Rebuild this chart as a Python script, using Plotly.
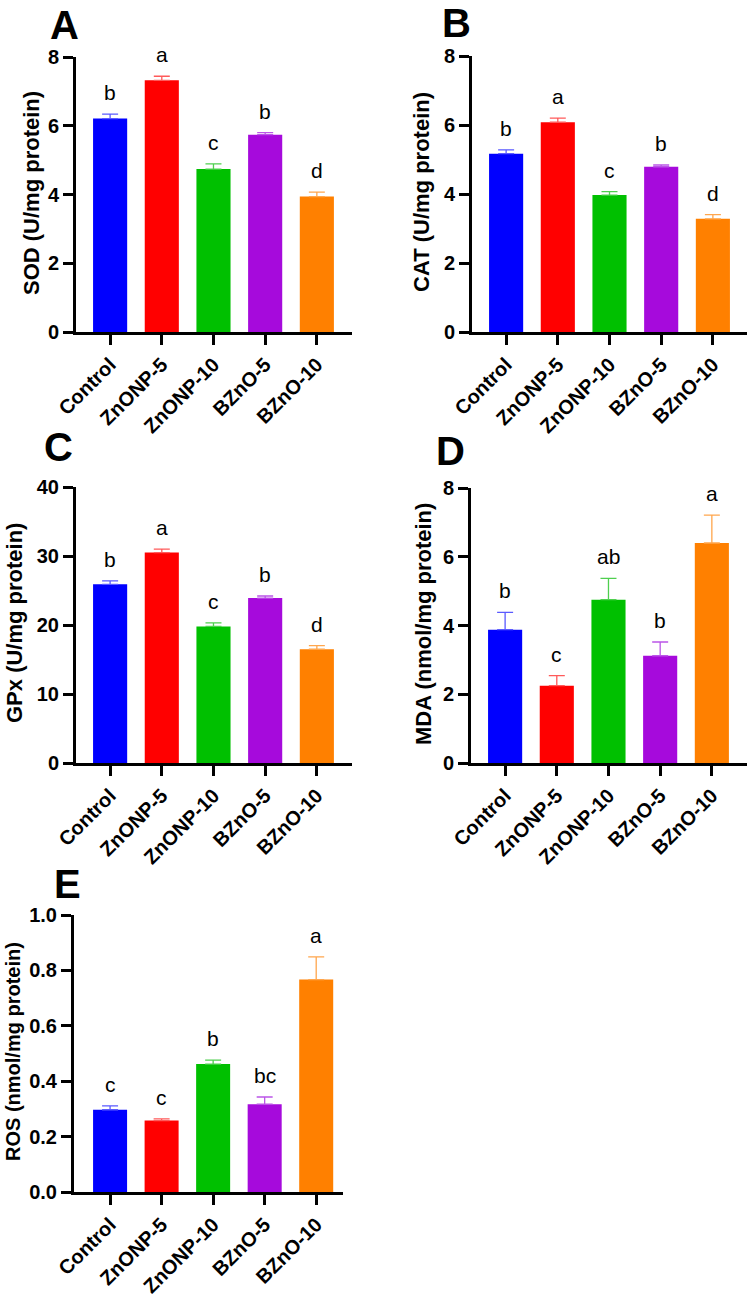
import plotly.graph_objects as go

categories = ["Control", "ZnONP-5", "ZnONP-10", "BZnO-5", "BZnO-10"]

sod_mean = [6.21, 7.32, 4.74, 5.74, 3.94]
sod_err = [0.13, 0.12, 0.15, 0.06, 0.13]
sod_letters = ["b", "a", "c", "b", "d"]

cat_mean = [5.17, 6.08, 3.97, 4.79, 3.28]
cat_err = [0.11, 0.12, 0.10, 0.05, 0.12]
cat_letters = ["b", "a", "c", "b", "d"]

gpx_mean = [25.9, 30.5, 19.8, 23.9, 16.5]
gpx_err = [0.5, 0.5, 0.5, 0.3, 0.5]
gpx_letters = ["b", "a", "c", "b", "d"]

mda_mean = [3.88, 2.25, 4.75, 3.12, 6.40]
mda_err = [0.50, 0.29, 0.62, 0.40, 0.81]
mda_letters = ["b", "c", "ab", "b", "a"]

ros_mean = [0.297, 0.258, 0.462, 0.317, 0.767]
ros_err = [0.014, 0.006, 0.014, 0.026, 0.082]
ros_letters = ["c", "c", "b", "bc", "a"]

bar_colors = ["#0000FF", "#FF0000", "#00C000", "#A60ADC", "#FF8000"]
err_colors = ["#5a5aff", "#ff5a5a", "#4fcf4f", "#bb55e8", "#ffa64d"]

W, H = 749, 1297
FONT = "Liberation Sans, Arial, sans-serif"

def px_x(p):
    return p / W

def px_y(p):
    return 1 - p / H

panels = [
    dict(name="A", mean=sod_mean, err=sod_err, letters=sod_letters,
         title="SOD (U/mg protein)", yrange=[0, 8], dtick=2, tickfmt="",
         xdom=[76, 352], ydom=[332, 57], xr=[-0.66, 4.68],
         lab=(64, 2), ttl=(32, 193), tsize=22),
    dict(name="B", mean=cat_mean, err=cat_err, letters=cat_letters,
         title="CAT (U/mg protein)", yrange=[0, 8], dtick=2, tickfmt="",
         xdom=[472, 747], ydom=[332, 56], xr=[-0.66, 4.66],
         lab=(456, 0), ttl=(422, 192), tsize=22),
    dict(name="C", mean=gpx_mean, err=gpx_err, letters=gpx_letters,
         title="GPx (U/mg protein)", yrange=[0, 40], dtick=10, tickfmt="",
         xdom=[76, 352], ydom=[763, 487], xr=[-0.66, 4.68],
         lab=(58, 424), ttl=(15, 623), tsize=22),
    dict(name="D", mean=mda_mean, err=mda_err, letters=mda_letters,
         title="MDA (nmol/mg protein)", yrange=[0, 8], dtick=2, tickfmt="",
         xdom=[471, 747], ydom=[763, 488], xr=[-0.66, 4.68],
         lab=(450, 428), ttl=(423, 624), tsize=22),
    dict(name="E", mean=ros_mean, err=ros_err, letters=ros_letters,
         title="ROS (nmol/mg protein)", yrange=[0, 1.0], dtick=0.2, tickfmt=".1f",
         xdom=[74, 343], ydom=[1192, 915], xr=[-0.70, 4.52],
         lab=(67, 861), ttl=(13, 1052), tsize=20),
]

fig = go.Figure()
annotations = []
layout_axes = {}

for i, p in enumerate(panels):
    n = i + 1
    xa = "x" if n == 1 else f"x{n}"
    ya = "y" if n == 1 else f"y{n}"
    for j, c in enumerate(categories):
        fig.add_trace(go.Bar(
            x=[c], y=[p["mean"][j]],
            marker=dict(color=bar_colors[j], line=dict(width=0)),
            width=0.66,
            error_y=dict(type="data", array=[p["err"][j]], arrayminus=[0],
                         symmetric=False, color=err_colors[j],
                         thickness=1.3, width=8),
            xaxis=xa, yaxis=ya, showlegend=False,
        ))
        annotations.append(dict(
            x=c, y=p["mean"][j] + p["err"][j], xref=xa, yref=ya,
            text=p["letters"][j], showarrow=False, yanchor="bottom",
            yshift=8, font=dict(family=FONT, size=21, color="black"),
        ))
    xkey = "xaxis" if n == 1 else f"xaxis{n}"
    ykey = "yaxis" if n == 1 else f"yaxis{n}"
    layout_axes[xkey] = dict(
        domain=[px_x(p["xdom"][0]), px_x(p["xdom"][1])],
        anchor=ya, type="category", categoryorder="array",
        categoryarray=categories, range=p["xr"], automargin=False,
        showline=True, linewidth=3, linecolor="black",
        ticks="outside", ticklen=10, tickwidth=3, tickcolor="black",
        tickangle=-45, showgrid=False, zeroline=False,
        tickfont=dict(family=FONT, size=20, color="black", weight="bold"),
    )
    layout_axes[ykey] = dict(
        domain=[px_y(p["ydom"][0]), px_y(p["ydom"][1])],
        anchor=xa, range=p["yrange"], dtick=p["dtick"], tick0=0,
        tickformat=p["tickfmt"], automargin=False,
        showline=True, linewidth=3, linecolor="black",
        ticks="outside", ticklen=10, tickwidth=3, tickcolor="black",
        showgrid=False, zeroline=False,
        tickfont=dict(family=FONT, size=20, color="black", weight="bold"),
    )
    annotations.append(dict(
        x=px_x(p["lab"][0]), y=px_y(p["lab"][1]), xref="paper", yref="paper",
        text=f"<b>{p['name']}</b>", showarrow=False, xanchor="center",
        yanchor="top", borderpad=0,
        font=dict(family=FONT, size=40, color="black"),
    ))
    annotations.append(dict(
        x=px_x(p["ttl"][0]), y=px_y(p["ttl"][1]), xref="paper", yref="paper",
        text=f"<b>{p['title']}</b>", showarrow=False, textangle=-90,
        xanchor="center", yanchor="middle",
        font=dict(family=FONT, size=p["tsize"], color="black"),
    ))

fig.update_layout(
    template="none",
    width=W, height=H, autosize=False,
    margin=dict(l=0, r=0, t=0, b=0, pad=0),
    paper_bgcolor="white", plot_bgcolor="white",
    barmode="overlay", showlegend=False,
    annotations=annotations,
    **layout_axes,
)

fig.write_html(
    "out.html",
    config={"displayModeBar": False},
    post_script="document.body.style.margin='0';document.body.style.overflow='hidden';",
)
